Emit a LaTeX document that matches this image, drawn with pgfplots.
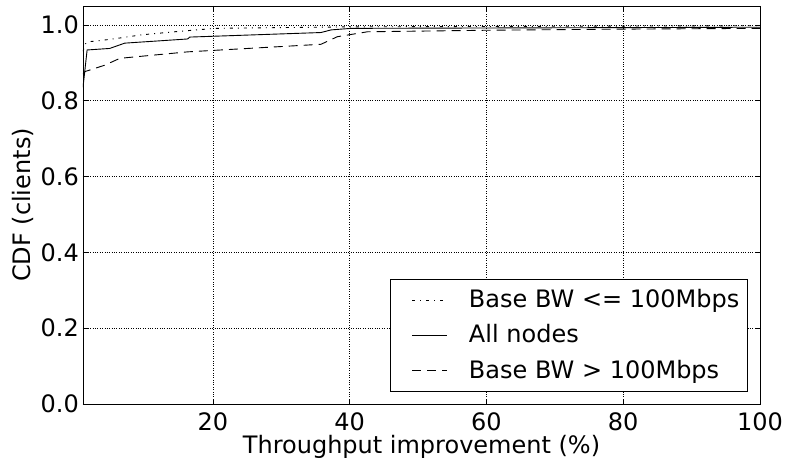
\documentclass[border=0pt]{standalone}
\usepackage{pgfplots}
\pgfplotsset{compat=1.18}
\usepackage{fontspec}
\setmainfont{DejaVu Sans}
\begin{document}
\fontsize{24bp}{29bp}\selectfont
\begin{tikzpicture}
\begin{axis}[
  scale only axis,
  width=677bp, height=398bp,
  xmin=1, xmax=100, ymin=0, ymax=1.05,
  xtick={20,40,60,80,100},
  ytick={0,0.2,0.4,0.6,0.8,1.0},
  yticklabel style={xshift=4bp, /pgf/number format/.cd,fixed,fixed zerofill,precision=1},
  /pgf/number format/assume math mode=true,
  tick align=inside,
  major tick length=5bp,
  tick style={black, line width=0.6bp},
  grid=major,
  grid style={black, dotted, line width=0.6bp},
  axis line style={black, line width=0.9bp},
  tick label style={font=\fontsize{24bp}{29bp}\selectfont},
  label style={font=\fontsize{24bp}{29bp}\selectfont},
  xlabel={Throughput improvement (\%)},
  ylabel={CDF (clients)},
  xlabel style={yshift=11bp},
  ylabel style={yshift=-9bp},
  legend style={at={(0.982,0.030)}, anchor=south east, draw=black, line width=0.9bp,
    font=\fontsize{24bp}{29bp}\selectfont, inner xsep=6bp, inner ysep=8bp, row sep=9.5bp},
  legend cell align=left,
  legend image code/.code={\draw[#1, line width=0.9bp] (0bp,0bp) -- (35bp,0bp);
     \path[draw=none] (-16bp,0bp) -- (55bp,0bp);},
]
\addplot[black, line width=0.9bp, dash pattern=on 3bp off 5bp on 1bp off 5bp] coordinates {
 (1,0.93) (1.3,0.95) (2,0.956) (5,0.962) (9.6,0.974) (15,0.983) (20.3,0.991) (30,0.993) (40,0.995) (60,0.996) (80,0.997) (100,0.998)
};
\addlegendentry{Base BW <= 100Mbps}
\addplot[black, line width=0.9bp] coordinates {
 (1,0.835) (1.6,0.934) (4.9,0.938) (7.1,0.952) (16.3,0.963) (16.6,0.968) (35.8,0.980) (37.3,0.987) (40.2,0.991) (60,0.992) (100,0.994)
};
\addlegendentry{All nodes}
\addplot[black, line width=0.9bp, dash pattern=on 9bp off 6bp] coordinates {
 (1,0.87) (1.3,0.877) (4.2,0.894) (6.4,0.912) (16.3,0.929) (35.8,0.949) (38.2,0.969) (42.6,0.982) (60,0.986) (80,0.989) (100,0.991)
};
\addlegendentry{Base BW > 100Mbps}
\end{axis}
\pgfresetboundingbox
\path[use as bounding box] (-83bp,-56bp) rectangle (705bp,404bp);
\end{tikzpicture}
\end{document}
